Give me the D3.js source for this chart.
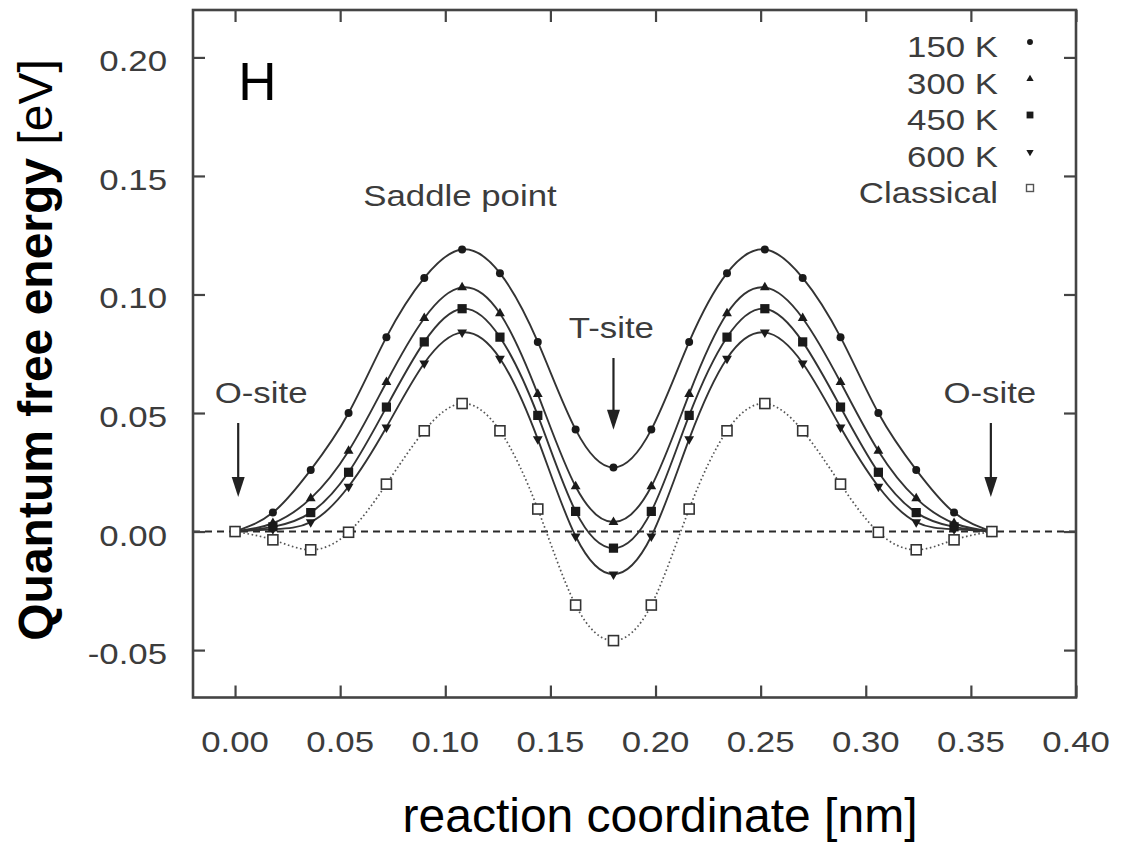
<!DOCTYPE html>
<html><head><meta charset="utf-8">
<script src="https://cdn.jsdelivr.net/npm/d3@7"></script>
<style>body{margin:0;background:#fff}svg{display:block}text{font-family:"Liberation Sans",Arial,sans-serif}</style>
</head><body><svg id="c" width="1130" height="842"></svg>
<script>
// reaction coordinate (nm)
const xs = [0, 0.018, 0.036, 0.054, 0.072, 0.090, 0.108, 0.126, 0.144, 0.162, 0.180, 0.198, 0.216, 0.234, 0.252, 0.270, 0.288, 0.306, 0.324, 0.342, 0.360];
const k150 = [0, 0.008, 0.026, 0.050, 0.082, 0.107, 0.119, 0.109, 0.080, 0.043, 0.027, 0.043, 0.080, 0.109, 0.119, 0.107, 0.082, 0.050, 0.026, 0.008, 0];
const k300 = [0, 0.0035, 0.014, 0.034, 0.063, 0.090, 0.103, 0.092, 0.058, 0.019, 0.004, 0.019, 0.058, 0.092, 0.103, 0.090, 0.063, 0.034, 0.014, 0.0035, 0];
const k450 = [0, 0.002, 0.008, 0.025, 0.0525, 0.080, 0.094, 0.082, 0.049, 0.0085, -0.007, 0.0085, 0.049, 0.082, 0.094, 0.080, 0.0525, 0.025, 0.008, 0.002, 0];
const k600 = [0, 0.001, 0.004, 0.019, 0.044, 0.071, 0.084, 0.073, 0.039, -0.002, -0.018, -0.002, 0.039, 0.073, 0.084, 0.071, 0.044, 0.019, 0.004, 0.001, 0];
const classical = [0, -0.0035, -0.0077, -0.0003, 0.020, 0.0425, 0.054, 0.0425, 0.0095, -0.031, -0.046, -0.031, 0.0095, 0.0425, 0.054, 0.0425, 0.020, -0.0003, -0.0077, -0.0035, 0];
const seriesNames = ["150 K", "300 K", "450 K", "600 K", "Classical"];
const xTicks = [0, 0.05, 0.10, 0.15, 0.20, 0.25, 0.30, 0.35, 0.40];
const yTicks = [-0.05, 0, 0.05, 0.10, 0.15, 0.20];
const xDomain = [-0.02, 0.40];
const yDomain = [-0.07, 0.22];
// annotations: [label, x, y]
const annLabels = ["Saddle point", "T-site", "O-site", "O-site"];
const annX = [0.107, 0.179, 0.0124, 0.359];
const annY = [0.1374, 0.0817, 0.0542, 0.0542];
// arrows: x, top value, tip value
const arrowX = [0.0015, 0.18, 0.3595];
const arrowTop = [0.0458, 0.0732, 0.0458];
const arrowTip = [0.0146, 0.0429, 0.0146];

const svg = d3.select("#c");
const L = 193, R = 1076, T = 10, B = 697.5;
const x = d3.scaleLinear().domain(xDomain).range([L, R]);
const y = d3.scaleLinear().domain(yDomain).range([B, T]);
const SX = 1.16;
const gray = "#3c3c3c";

function stext(g, tx, ty, str, anchor, size, fill, weight) {
  return g.append("text").attr("transform", `translate(${tx},${ty}) scale(${SX},1)`)
    .attr("text-anchor", anchor).attr("font-size", size).attr("fill", fill)
    .attr("font-weight", weight || "normal").text(str);
}

// zero dashed line
svg.append("line").attr("x1", L).attr("x2", R).attr("y1", y(0)).attr("y2", y(0))
  .attr("stroke", "#2a2a2a").attr("stroke-width", 2).attr("stroke-dasharray", "7,5");

// axes with inward ticks (mirrored)
const axB = d3.axisBottom(x).tickValues(xTicks).tickSize(-12).tickFormat("");
const axT = d3.axisTop(x).tickValues(xTicks).tickSize(-12).tickFormat("");
const axL = d3.axisLeft(y).tickValues(yTicks).tickSize(-12).tickFormat("");
const axR = d3.axisRight(y).tickValues(yTicks).tickSize(-12).tickFormat("");
[[axB, `translate(0,${B})`], [axT, `translate(0,${T})`], [axL, `translate(${L},0)`], [axR, `translate(${R},0)`]].forEach(([a, t]) => {
  const g = svg.append("g").attr("transform", t).call(a);
  g.select(".domain").remove();
  g.selectAll("line").attr("stroke", "#444").attr("stroke-width", 2.2);
});
svg.append("rect").attr("x", L).attr("y", T).attr("width", R - L).attr("height", B - T)
  .attr("fill", "none").attr("stroke", "#444").attr("stroke-width", 2.6);

// tick labels
const tl = svg.append("g");
xTicks.forEach(v => stext(tl, x(v), 752, d3.format(".2f")(v), "middle", 30, gray));
yTicks.forEach(v => stext(tl, 167, y(v) + 14, d3.format(".2f")(v).replace("−", "-"), "end", 30, gray));

// curves
const ser = [k150, k300, k450, k600];
const line = d3.line().x((d, i) => x(xs[i])).y(d => y(d)).curve(d3.curveNatural);
ser.forEach(s => svg.append("path").attr("d", line(s)).attr("fill", "none").attr("stroke", "#333").attr("stroke-width", 1.9));
svg.append("path").attr("d", line(classical)).attr("fill", "none").attr("stroke", "#555")
  .attr("stroke-width", 1.7).attr("stroke-dasharray", "1.6,2.6");

// markers
const shapes = [
  {t: d3.symbolCircle, s: 50, r: 0},
  {t: d3.symbolTriangle, s: 42, r: 0},
  {t: d3.symbolSquare, s: 85, r: 0},
  {t: d3.symbolTriangle, s: 42, r: 180}
];
ser.forEach((s, k) => {
  const sym = d3.symbol().type(shapes[k].t).size(shapes[k].s);
  svg.append("g").selectAll("path").data(s).join("path")
    .attr("d", sym).attr("transform", (d, i) => `translate(${x(xs[i])},${y(d)}) rotate(${shapes[k].r})`)
    .attr("fill", "#1a1a1a");
});
svg.append("g").selectAll("rect").data(classical).join("rect")
  .attr("x", (d, i) => x(xs[i]) - 5).attr("y", d => y(d) - 5).attr("width", 10).attr("height", 10)
  .attr("fill", "#fff").attr("stroke", "#333").attr("stroke-width", 1.6);

// annotations
annLabels.forEach((t, i) => stext(svg, x(annX[i]), y(annY[i]), t, "middle", 30, gray));
arrowX.forEach((ax, i) => {
  const px = x(ax), y0 = y(arrowTop[i]), y1 = y(arrowTip[i]);
  svg.append("line").attr("x1", px).attr("x2", px).attr("y1", y0).attr("y2", y1 - 16)
    .attr("stroke", "#222").attr("stroke-width", 2.2);
  svg.append("path").attr("d", `M${px - 6.5},${y1 - 20} L${px + 6.5},${y1 - 20} L${px},${y1} Z`).attr("fill", "#222");
});
svg.append("text").attr("x", x(0.0015)).attr("y", y(0.182)).attr("font-size", 53).attr("fill", "#000").text("H");

// legend
const legY = [57, 94, 130, 167, 203];
seriesNames.forEach((n, i) => {
  stext(svg, 998, legY[i], n, "end", 30, gray);
  const cy = legY[i] - 15, cx = 1030;
  if (i < 4) {
    const sym = d3.symbol().type(shapes[i].t).size(shapes[i].s * 0.55);
    svg.append("path").attr("d", sym).attr("transform", `translate(${cx},${cy}) rotate(${shapes[i].r})`).attr("fill", "#1a1a1a");
  } else {
    svg.append("rect").attr("x", cx - 3.5).attr("y", cy - 3.5).attr("width", 7).attr("height", 7)
      .attr("fill", "#fff").attr("stroke", "#555").attr("stroke-width", 1.4);
  }
});

// axis titles
svg.append("text").attr("x", 660).attr("y", 832).attr("text-anchor", "middle").attr("font-size", 48).attr("fill", "#000").text("reaction coordinate [nm]");
const yt = svg.append("text").attr("transform", "translate(52,350) rotate(-90)").attr("text-anchor", "middle").attr("font-size", 48).attr("fill", "#000");
yt.append("tspan").attr("font-weight", "bold").text("Quantum free energy");
yt.append("tspan").text(" [eV]");
</script></body></html>
